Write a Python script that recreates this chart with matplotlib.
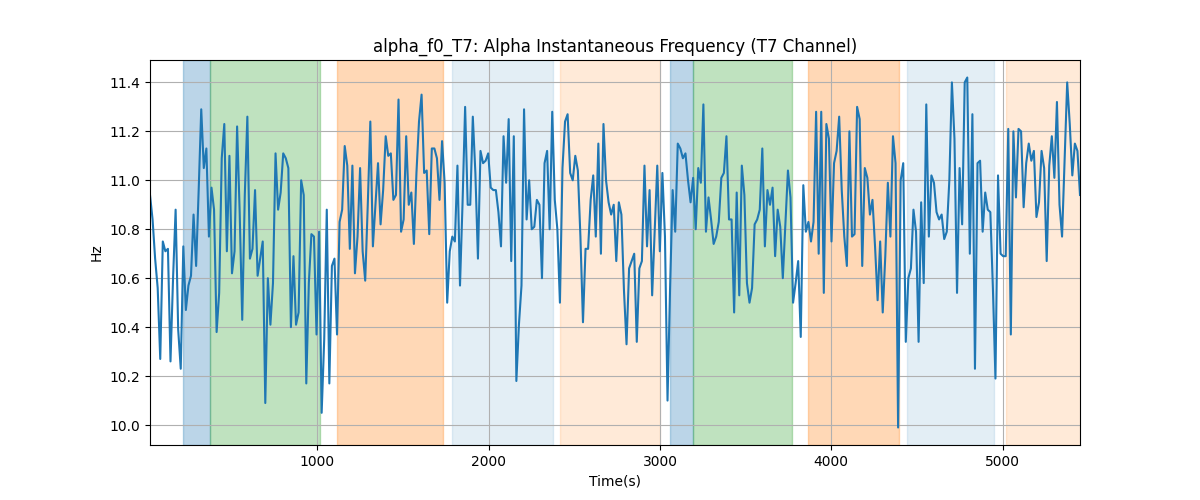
import numpy as np
import matplotlib.pyplot as plt

# alpha frequency samples (Hz)
freq = [
    10.94, 10.84, 10.68, 10.56, 10.27, 10.75, 10.71, 10.72, 10.26, 10.60,
    10.88, 10.39, 10.23, 10.73, 10.47, 10.57, 10.61, 10.86, 10.65, 10.96,
    11.29, 11.05, 11.13, 10.77, 10.97, 10.88, 10.38, 10.54, 11.09, 11.23,
    10.71, 11.10, 10.62, 10.71, 11.22, 10.87, 10.43, 10.94, 11.26, 10.68,
    10.72, 10.96, 10.61, 10.68, 10.75, 10.09,
    10.60, 10.41, 10.58, 11.11, 10.88, 10.95, 11.11, 11.09, 11.05, 10.40,
    10.69, 10.41, 10.46, 11.00, 10.94, 10.17, 10.58, 10.78, 10.77, 10.37,
    10.79, 10.05, 10.35, 10.88, 10.17, 10.65, 10.68, 10.37, 10.83, 10.88,
    11.14, 11.06, 10.72, 11.06, 10.62, 10.77, 11.05, 10.71, 10.59, 10.90,
    11.24, 10.73, 10.90, 11.07,
    10.82, 10.96, 11.18, 11.10, 11.11, 10.92, 10.94, 11.33, 10.79, 10.84,
    11.18, 10.90, 10.95, 10.74, 11.03, 11.24, 11.35, 11.03, 11.04, 10.78,
    11.13, 11.13, 11.09, 10.92, 11.16, 10.99, 10.50, 10.71, 10.77, 10.75,
    11.06, 10.57, 10.91, 11.30, 10.90, 10.90, 11.26, 11.03, 10.68, 11.12,
    11.07, 11.08, 11.11, 10.97, 10.96,
    10.96, 10.87, 10.73, 11.18, 10.99, 11.25, 10.67, 11.18, 10.18, 10.41,
    10.57, 11.29, 10.84, 11.00, 10.80, 10.81, 10.92, 10.90, 10.60, 11.07,
    11.12, 10.80, 11.28, 10.92, 10.80, 10.50, 11.05, 11.24, 11.27, 11.03,
    11.00, 11.10, 11.04, 10.77, 10.42, 10.72, 10.72, 10.92, 11.02, 10.77,
    11.15, 10.70, 11.23, 11.00, 10.91,
    10.86, 10.90, 10.67, 10.91, 10.86, 10.55, 10.33, 10.64, 10.67, 10.70,
    10.34, 10.64, 10.67, 11.06, 10.73, 10.96, 10.53, 10.80, 11.06, 10.71,
    11.03, 10.77, 10.10, 10.56, 10.96, 10.79, 11.15, 11.13, 11.09, 11.11,
    11.00, 10.91, 11.01, 10.80, 11.05, 10.99, 11.31, 10.79, 10.93, 10.84,
    10.74, 10.77, 10.83, 11.01, 11.03,
    11.18, 10.84, 10.84, 10.46, 10.95, 10.53, 11.06, 10.94, 10.58, 10.50,
    10.56, 10.82, 10.84, 10.88, 11.13, 10.73, 10.96, 10.90, 10.97, 10.69,
    10.88, 10.81, 10.60, 10.82, 11.04, 10.93, 10.50, 10.58, 10.67, 10.36,
    10.98, 10.79, 10.83, 10.75, 10.83, 11.28, 10.70, 11.28, 10.54, 11.23,
    11.17, 10.75, 11.07, 11.12, 11.26,
    10.96, 10.77, 10.65, 11.20, 10.77, 10.78, 11.30, 11.25, 10.65, 11.05,
    11.01, 10.86, 10.92, 10.73, 10.51, 10.75, 10.46, 10.69, 10.99, 10.77,
    11.18, 11.07, 9.99, 11.00, 11.07, 10.34, 10.60, 10.64, 10.88, 10.79,
    10.34, 10.91, 10.58, 11.31, 10.77, 11.02, 10.99, 10.87, 10.84, 10.86,
    10.76, 10.79, 11.00, 11.40, 11.17,
    10.54, 11.05, 10.82, 11.40, 11.42, 10.70, 11.27, 10.23, 11.07, 11.08,
    10.79, 10.95, 10.88, 10.87, 10.56, 10.19, 11.02, 10.70, 10.69, 10.69,
    11.21, 10.37, 11.20, 10.93, 11.21, 11.20, 10.89, 11.07, 11.15, 11.08,
    11.12, 10.85, 10.91, 11.12, 11.05, 10.67, 11.06, 11.18, 11.01, 11.32,
    10.90, 10.77, 11.09, 11.40, 11.23, 11.02, 11.15, 11.12, 10.94,
]
t_start = 22
t_step = 14.96
t = t_start + t_step * np.arange(len(freq))

# shaded segments: (start, end, colour, alpha)
seg_start = [212, 372, 1113, 1784, 2417, 3060, 3195, 3867, 4444, 5018]
seg_end = [372, 1016, 1731, 2374, 3000, 3195, 3770, 4398, 4953, 5460]
seg_color = ['tab:blue', 'tab:green', 'tab:orange', 'tab:blue', 'tab:orange'] * 2
seg_alpha = [0.3, 0.3, 0.3, 0.12, 0.16] * 2

fig, ax = plt.subplots(figsize=(12, 5), dpi=100)
for s, e, c, a in zip(seg_start, seg_end, seg_color, seg_alpha):
    ax.axvspan(s, e, color=c, alpha=a)
ax.plot(t, freq, color='tab:blue')
ax.set_xlim(t[0], t[-1])
ax.set_title('alpha_f0_T7: Alpha Instantaneous Frequency (T7 Channel)')
ax.set_xlabel('Time(s)')
ax.set_ylabel('Hz')
ax.grid(True)
plt.savefig('out.png')
